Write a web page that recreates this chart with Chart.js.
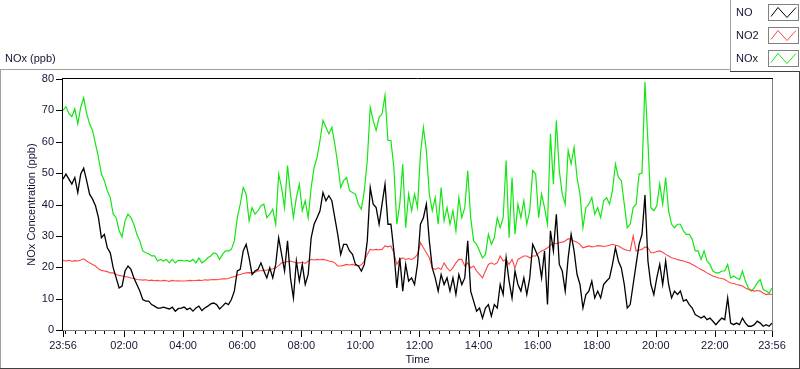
<!DOCTYPE html>
<html>
<head>
<meta charset="utf-8">
<script src="https://cdn.jsdelivr.net/npm/chart.js@4/dist/chart.umd.min.js"></script>
<style>
  html, body { margin: 0; padding: 0; background: #fff; }
  #wrap { width: 800px; height: 369px; }
</style>
</head>
<body>
<div id="wrap"><canvas id="nox-chart" width="800" height="369"></canvas></div>
<script>
// Samples every 6 minutes, starting at 23:56 (minute 0) and ending at 23:56 next day (minute 1440)
const sampleStep = 6;

const noValues = [
  48.1, 49.7, 48.1, 46.5, 48.6, 43.8, 49.7, 51.6, 47.6, 43.3, 41.7, 39.6, 35.8, 29.4, 30.5, 26.2, 24.6, 19.8, 16.6, 13.4,
  14, 18.8, 20.4, 19.3, 16.6, 14.5, 12.4, 9.7, 9.2, 9.2, 8.1, 7.6, 7, 7, 7.3, 7, 6.7, 7.3, 6, 6.8,
  7, 7.3, 6.5, 7, 6, 7, 7.6, 6.2, 7, 7.6, 8.3, 8.6, 8.1, 6.7, 7.6, 8.6, 8.1, 9.7, 12.4, 18.8,
  19.3, 25.2, 27.3, 23, 17.7, 18.8, 19.3, 21.4, 18.8, 16.6, 19.8, 16.6, 20.9, 29.4, 24.1, 18.8, 28.4, 16.6, 10.2, 22,
  15.6, 20.9, 14.5, 17.7, 29.4, 33.7, 35.8, 38, 43.8, 41.2, 42.8, 41.2, 35.8, 30.5, 24.1, 27.3, 27.3, 25.2, 24.1, 20.9,
  20.4, 18.8, 20.9, 28.4, 45.4, 40.1, 39, 33.7, 40.1, 46.5, 33.7, 33.7, 25.2, 13.4, 23, 12.4, 20.9, 15.6, 16.6, 14.5,
  20.9, 33.7, 35.8, 40.1, 28.4, 19.8, 16.6, 12.4, 17.7, 14.5, 16.6, 12.4, 16.6, 11.3, 17.7, 14.5, 16.6, 28.4, 12.4, 9.2,
  6, 7, 3.8, 7, 8.1, 4.4, 8.1, 7, 14.5, 11.3, 23, 15.6, 10.2, 18.8, 14.5, 12.4, 16.6, 11.3, 16.6, 27.3,
  25.2, 23, 16.6, 25.2, 8.1, 31.6, 25.2, 36.9, 20.9, 18.8, 12.4, 23, 30.5, 25.2, 17.7, 14.5, 7, 11.3, 12.4, 15.6,
  10.2, 12.4, 10.2, 14.5, 15.6, 16.6, 20.9, 26.2, 22, 19.8, 14.5, 7, 8.1, 14.5, 20.9, 27.3, 30.5, 43, 22, 14.5,
  11.3, 16.6, 20.9, 14.5, 22, 14.5, 10.2, 12.4, 11.3, 12.4, 9.2, 9.7, 8.1, 7, 4.9, 4.4, 3.8, 4.4, 3.3, 3.8,
  2.8, 1.7, 2.8, 3.8, 3.3, 10.2, 2.2, 1.7, 2.2, 1.7, 3.8, 2.2, 1.2, 1.2, 1.7, 2.8, 2.2, 1.2, 1.7, 1.2, 2.2,
];

const no2Values = [
  22.2, 22, 22.2, 21.9, 22.1, 22, 22.3, 22.7, 22, 21.4, 20.9, 20.4, 19.5, 19, 18.8, 18.6, 18.2, 18.2, 17.7, 17.4,
  17.2, 17, 16.9, 16.6, 16.4, 16.1, 16, 15.9, 16, 15.8, 15.9, 15.7, 15.8, 15.6, 15.8, 15.7, 15.5, 15.8, 15.6, 15.7,
  15.6, 15.6, 15.7, 15.8, 15.7, 15.8, 15.9, 15.8, 16, 15.9, 16, 16.1, 16, 16.2, 16.3, 16.3, 16.4, 16.8, 17, 17.5,
  17.7, 18, 18.2, 18.3, 18.2, 18.4, 18.8, 18.9, 19, 19.1, 19.3, 19.5, 19.8, 20.5, 21.4, 21.6, 21.8, 22, 21.7, 21.4,
  21.4, 21.6, 21.2, 21.9, 22.5, 22.3, 22.5, 22.4, 22.5, 22.3, 22, 21.8, 21.4, 20.4, 20.4, 20.6, 20.9, 20.7, 20.9, 20.6,
  20.4, 20.8, 22, 24.1, 25.7, 25.5, 25.7, 25.6, 25.7, 26.8, 26.5, 26.8, 24.6, 20.9, 22.5, 23, 22.5, 22.8, 22.5, 23,
  24.1, 27.8, 26.2, 24.6, 23, 19.8, 19.3, 19.8, 19.3, 21.4, 19.8, 18.8, 19.8, 21.4, 22.5, 22.5, 20.4, 21.4, 19.8, 20.4,
  18.8, 17.7, 16.6, 18.8, 20.9, 21.4, 20.9, 21.4, 23.6, 22, 22.5, 20.9, 22.5, 19.8, 22.5, 23, 23.6, 23.6, 23, 23.6,
  23.6, 24.6, 25.2, 25.6, 26.2, 27, 27.8, 27.5, 27.8, 28, 28.4, 29.1, 28.8, 28.4, 28, 27.3, 26.2, 26.5, 26.8, 26.5,
  26.6, 26.9, 26.8, 26.6, 26.8, 27, 27.3, 27, 26.8, 26.2, 25.7, 25.4, 25.2, 30, 25.2, 25.5, 25.7, 26.5, 26.2, 24.6,
  24.6, 25, 25.2, 24.8, 24.1, 23.6, 23, 22.8, 22.5, 22.2, 22, 21.7, 21.4, 20.9, 20.4, 19.8, 19.3, 18.8, 18.2, 17.7,
  17.2, 16.9, 16.6, 16.4, 16.1, 15.5, 15, 14.8, 14.5, 14.3, 14, 13.4, 12.9, 12.7, 12.4, 12.6, 12.4, 11.8, 11.3, 11.5, 11.3,
];

const noxValues = [
  70, 71.2, 69, 68, 70.5, 65.7, 71, 74, 69, 65.7, 63.6, 59.3, 55, 49.7, 47.6, 44.4, 42.2, 36.9, 35.8, 31.6,
  29.7, 34.8, 36.9, 35.8, 33.7, 30.5, 28.4, 25.2, 24.6, 24.3, 23.6, 23.6, 22, 22.5, 22, 22.5, 21.4, 22.5, 21.4, 22.2,
  22.2, 22, 22.2, 21.8, 22.5, 21.4, 23, 21.4, 22, 23, 23.6, 24.6, 24.3, 22.5, 24.1, 25.2, 25.2, 25.7, 28.4, 35.8,
  40.1, 45.4, 43.3, 34.8, 39, 36.9, 38, 39.6, 40.1, 35.8, 36.9, 38.5, 33.7, 49.7, 45.4, 39, 52.4, 43.3, 35.8, 42.2,
  46.5, 38, 41.2, 35.8, 45.4, 51.8, 55, 60.4, 66.8, 64.6, 62.5, 64.6, 59.3, 52.9, 45.4, 47.6, 48.6, 44.4, 43.8, 43.3,
  40.1, 38.5, 44.4, 54, 71, 66.8, 63.6, 67.8, 68.9, 74.8, 60.4, 60.4, 51.8, 33.7, 40.1, 52.9, 32.6, 43.3, 38, 43.3,
  39, 56.1, 64.6, 57.2, 43.3, 38, 42.2, 33.7, 45.4, 34.8, 39, 33.7, 38, 31.6, 42.2, 35.8, 39, 50.8, 35.8, 28.4,
  27.3, 25.2, 23, 24.1, 30.5, 27.3, 29.4, 35.8, 32.6, 35.8, 54, 29.4, 48.6, 30.5, 40.1, 35.8, 41.2, 33.7, 38, 50.8,
  49.7, 35.8, 43.3, 39, 33.7, 62.5, 46.5, 66.8, 50.8, 43.3, 40.1, 57.2, 52.9, 58.2, 48.6, 43.3, 32.6, 39, 40.1, 42.2,
  36.9, 39, 35.8, 41.2, 42.2, 40.1, 44.4, 52.9, 48.6, 47.6, 40.1, 32.6, 33.7, 39, 40.1, 49.7, 50, 79, 60, 39,
  38, 39.6, 46.5, 40.1, 48.6, 38, 33.7, 32.6, 33.7, 33.7, 31.6, 30.5, 30.5, 28.9, 25.2, 25.2, 22.5, 25.2, 22, 20.9,
  18.8, 18.2, 18.2, 18.8, 18.8, 20.9, 16.6, 17.2, 16.6, 16.1, 18.8, 15.6, 13.4, 12.4, 13.4, 15, 16.1, 12.9, 12.4, 11.8, 13.4,
];

// Axis ticks (minutes after 23:56)
const xMajorMinutes = [0, 124, 244, 364, 484, 604, 724, 844, 964, 1084, 1204, 1324, 1440];
const xMajorLabels = ['23:56', '02:00', '04:00', '06:00', '08:00', '10:00', '12:00', '14:00', '16:00', '18:00', '20:00', '22:00', '23:56'];
const yTickValues = [0, 10, 20, 30, 40, 50, 60, 70, 80];

const seriesNames = ['NO', 'NO2', 'NOx'];
const seriesColors = ['#000000', '#ff4646', '#14e614'];

const sampleMinutes = noValues.map((v, i) => i * sampleStep);
const toPoints = (vals) => vals.map((y, i) => ({ x: sampleMinutes[i], y }));

// minor ticks every 20 minutes, on the clock
const minorMinutes = [];
for (let m = 4; m < 1440; m += 20) minorMinutes.push(m);
const xTickValues = [...new Set([...xMajorMinutes, ...minorMinutes])].sort((a, b) => a - b);

const textColor = '#141432';
const fontFamily = '"Liberation Sans", Arial, sans-serif';

const hline = (ctx, x1, y1, x2, y2, color) => {
  ctx.strokeStyle = color;
  ctx.beginPath();
  ctx.moveTo(x1, y1);
  ctx.lineTo(x2, y2);
  ctx.stroke();
};

// Borders, tick marks, outer frame and legend, drawn like the LabVIEW graph
const framePlugin = {
  id: 'frame',
  afterDatasetsDraw(chart) {
    const { ctx, chartArea: a, scales: { x, y } } = chart;
    ctx.save();
    ctx.lineWidth = 1;
    hline(ctx, a.left - 0.5, a.bottom + 1, a.left - 0.5, a.top - 1, '#000');
    hline(ctx, a.left - 1, a.top - 0.5, a.right + 1, a.top - 0.5, '#000');
    hline(ctx, a.right + 0.5, a.top, a.right + 0.5, a.bottom + 1, '#808080');
    hline(ctx, a.left, a.bottom + 0.5, a.right + 1, a.bottom + 0.5, '#808080');

    xTickValues.forEach((v) => {
      const px = Math.round(x.getPixelForValue(v)) + 0.5;
      const len = xMajorMinutes.includes(v) ? 6 : 3;
      hline(ctx, px, a.bottom + 1, px, a.bottom + 1 + len, '#000');
    });
    yTickValues.forEach((v) => {
      const py = Math.round(y.getPixelForValue(v)) + 0.5;
      hline(ctx, a.left - 7, py, a.left - 1, py, '#000');
    });
    ctx.restore();
  },
  afterDraw(chart) {
    const { ctx, width, height } = chart;
    ctx.save();
    ctx.lineWidth = 1;
    // outer frame
    hline(ctx, 0, 69.5, 731, 69.5, '#a0a0a0');
    hline(ctx, 0.5, 69, 0.5, height, '#a0a0a0');
    hline(ctx, 0, height - 0.5, width, height - 0.5, '#404040');
    hline(ctx, width - 0.5, 71, width - 0.5, height, '#404040');

    // graph caption
    ctx.fillStyle = textColor;
    ctx.font = `11px ${fontFamily}`;
    ctx.textBaseline = 'middle';
    ctx.textAlign = 'left';
    ctx.fillText('NOx (ppb)', 5, 59);

    // legend box
    hline(ctx, 730.5, 0, 730.5, 72, '#a0a0a0');
    hline(ctx, 730, 71.5, width, 71.5, '#404040');
    const rowTop = [4.5, 27.5, 50.5];
    seriesNames.forEach((name, k) => {
      const top = rowTop[k];
      ctx.fillStyle = textColor;
      ctx.fillText(name, 736, top + 8.5);
      ctx.strokeStyle = '#808080';
      ctx.strokeRect(768.5, top, 30, 16);
      ctx.strokeStyle = seriesColors[k];
      ctx.beginPath();
      ctx.moveTo(771, top + 12);
      ctx.lineTo(778, top + 3);
      ctx.lineTo(787, top + 13);
      ctx.lineTo(796, top + 3);
      ctx.stroke();
    });
    ctx.restore();
  },
};

const ctx = document.getElementById('nox-chart');

const chart = new Chart(ctx, {
  type: 'line',
  data: {
    datasets: [
      { label: 'NO', data: toPoints(noValues), borderColor: seriesColors[0], borderWidth: 1.3 },
      { label: 'NO2', data: toPoints(no2Values), borderColor: seriesColors[1], borderWidth: 1.1 },
      { label: 'NOx', data: toPoints(noxValues), borderColor: seriesColors[2], borderWidth: 1.2 },
    ],
  },
  options: {
    responsive: false,
    animation: false,
    events: [],
    layout: {
      padding: { top: 79, right: 28, left: 0, bottom: 0 },
    },
    elements: {
      line: { tension: 0 },
      point: { radius: 0 },
    },
    scales: {
      x: {
        type: 'linear',
        min: 0,
        max: 1440,
        afterFit: (scale) => { scale.height = 39; },
        afterBuildTicks: (scale) => { scale.ticks = xTickValues.map((value) => ({ value })); },
        grid: { display: false, drawTicks: false },
        border: { display: false },
        ticks: {
          autoSkip: false,
          maxRotation: 0,
          padding: 9,
          color: textColor,
          font: { family: fontFamily, size: 11 },
          callback: (value) => {
            const k = xMajorMinutes.indexOf(value);
            return k >= 0 ? xMajorLabels[k] : '';
          },
        },
        title: {
          display: true,
          text: 'Time',
          color: textColor,
          font: { family: fontFamily, size: 11 },
          padding: { top: 0, bottom: 2 },
        },
      },
      y: {
        min: 0,
        max: 80,
        afterFit: (scale) => { scale.width = 63; },
        afterBuildTicks: (scale) => { scale.ticks = yTickValues.map((value) => ({ value })); },
        grid: { display: false, drawTicks: false },
        border: { display: false },
        ticks: {
          padding: 9,
          color: textColor,
          font: { family: fontFamily, size: 11 },
        },
        title: {
          display: true,
          text: 'NOx Concentration (ppb)',
          color: textColor,
          font: { family: fontFamily, size: 11 },
          padding: { top: 25, bottom: 0 },
        },
      },
    },
    plugins: {
      legend: { display: false },
      tooltip: { enabled: false },
    },
  },
  plugins: [framePlugin],
});
</script>
</body>
</html>
